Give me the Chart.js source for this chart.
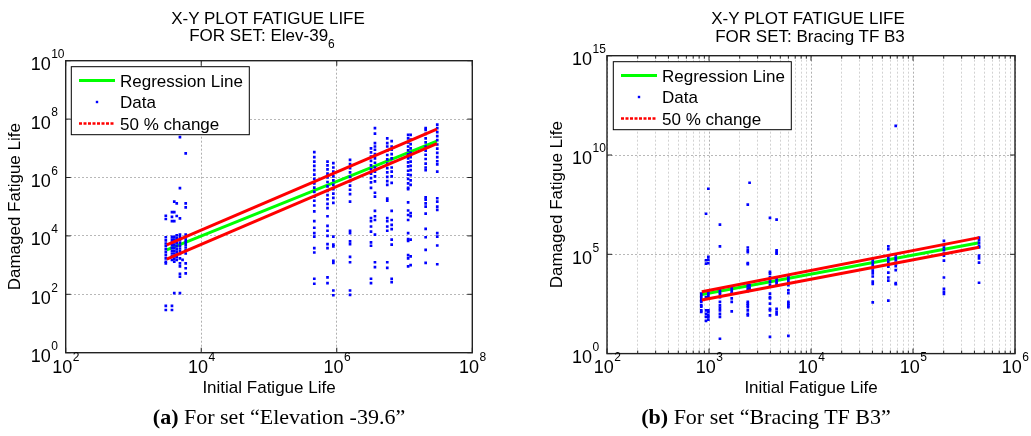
<!DOCTYPE html>
<html>
<head>
<meta charset="utf-8">
<script src="https://cdn.jsdelivr.net/npm/chart.js@4"></script>
<style>
  body { margin:0; width:1031px; height:436px; background:#fff; position:relative; overflow:hidden;
         font-family:"Liberation Sans", Arial, sans-serif; }
  canvas { position:absolute; top:0; }
  #elev { left:0; }
  #brac { left:515px; }
  .t { position:absolute; font-size:17px; line-height:17px; white-space:nowrap; transform:translateX(-50%); color:#000; }
  .t .sub { font-size:12px; position:relative; top:7px; }
  .cap { position:absolute; top:406px; font-family:"Liberation Serif", "DejaVu Serif", serif; font-size:22px;
         line-height:22px; white-space:nowrap; transform:translateX(-50%); color:#000; }
</style>
</head>
<body>
<canvas id="elev" width="515" height="436"></canvas>
<canvas id="brac" width="516" height="436"></canvas>

<div class="t" style="left:268px;top:10px">X-Y PLOT FATIGUE LIFE</div>
<div class="t" style="left:262px;top:26.7px">FOR SET: Elev-39<span class="sub">6</span></div>
<div class="t" style="left:808px;top:10px">X-Y PLOT FATIGUE LIFE</div>
<div class="t" style="left:810px;top:28px">FOR SET: Bracing TF B3</div>

<div class="cap" style="left:279px"><b>(a)</b> For set “Elevation -39.6”</div>
<div class="cap" style="left:766px"><b>(b)</b> For set “Bracing TF B3”</div>

<script>
// legend entries, same for both plots
const legendLabels = ['Regression Line', 'Data', '50 % change'];

// ---- (a) Elevation -39.6 ----
const elevXTicks = [1e2, 1e4, 1e6, 1e8];
const elevYTicks = [1e0, 1e2, 1e4, 1e6, 1e8, 1e10];

// initial fatigue life of each column of points
const elevX = [3.0e3, 3.7e3, 4.0e3, 4.35e3, 4.85e3, 5.3e3, 5.9e3,
               4.66e5, 7.3e5, 8.9e5, 1.57e6, 3.2e6, 3.66e6, 5.56e6, 6.46e6, 1.13e7, 1.23e7, 2.05e7, 3.04e7];
// damaged fatigue life, one list per column
const elevY = [
  [4.9e4, 3.8e4, 9e3, 7e3, 5.5e3, 4.5e3, 3.5e3, 2.8e3, 2.2e3, 1.7e3, 1.3e3, 1.15e3, 40, 29],
  [6.5e4, 4.5e4, 3.2e4, 9.3e3, 7.5e3, 6e3, 4.8e3, 3.9e3, 3.1e3, 2.5e3, 2e3, 1.5e3, 40, 29],
  [1.5e5, 6.5e4, 3.2e4, 9.3e3, 7.5e3, 6e3, 4.8e3, 3.9e3, 3.1e3, 2.5e3, 2e3, 1.6e3, 1.3e3, 110],
  [1.3e5, 4.8e4, 1.05e4, 8.5e3, 7e3, 5.6e3, 4.5e3, 3.6e3, 2.9e3, 2.3e3, 1.9e3, 1.5e3],
  [2.4e7, 4.3e5, 4e4, 1.1e4, 9e3, 7.2e3, 5.8e3, 4.6e3, 3.7e3, 3e3, 2.4e3, 1.7e3, 1.15e3, 900, 500, 400, 110],
  [1.5e3],
  [6.7e6, 1.3e5, 9.5e4, 1.1e4, 9e3, 7.5e3, 6e3, 5e3, 4e3, 3.2e3, 2.5e3, 1.15e3, 780, 520],
  [7.4e6, 5e6, 3.5e6, 2.5e6, 1.8e6, 1.25e6, 9e5, 6.3e5, 4.5e5, 3.2e5, 2.2e5, 1.6e5, 1.1e5, 6.9e4, 3.2e4, 1.9e4, 1.25e4, 9.5e3, 3.8e3, 2.7e3, 340, 230],
  [3.5e6, 2.6e6, 1.9e6, 1.35e6, 1e6, 7e5, 5e5, 3.5e5, 2.5e5, 1.8e5, 1.25e5, 9e4, 4.7e4, 2.2e4, 1.5e4, 1e4, 5.2e3, 3.8e3, 380, 240],
  [3.1e6, 2.2e6, 1.6e6, 1.1e6, 8e5, 5.6e5, 4e5, 2.8e5, 2e5, 1.35e5, 9.5e3, 5e3, 4.4e3, 1.4e3, 1.2e3, 135, 93],
  [4e6, 2.9e6, 2.1e6, 1.5e6, 1.05e6, 7.5e5, 5.3e5, 3.8e5, 2.7e5, 1.5e5, 1.5e4, 1.25e4, 6.5e3, 5.2e3, 1.9e3, 1.25e3, 135, 95],
  [1e7, 7.2e6, 5.2e6, 3.7e6, 2.6e6, 1.9e6, 1.35e6, 9.5e5, 6.8e5, 4.4e5, 4.1e4, 3.2e4, 2.1e4, 1.4e4, 6e3, 4.6e3, 340, 240],
  [4.9e7, 3.2e7, 1.5e7, 1.15e7, 8.9e6, 6.3e6, 4.5e6, 3.2e6, 2.2e6, 1.6e6, 1.1e6, 7.4e5, 3e5, 2.2e5, 7.2e4, 4.7e4, 3.5e4, 1.1e4, 1.25e3, 850],
  [2.2e7, 1.5e7, 1.15e7, 8.3e6, 5.9e6, 4.2e6, 3e6, 2.1e6, 1.5e6, 1.05e6, 7.5e5, 5.6e5, 1.9e5, 1.6e5, 4.1e4, 3.2e4, 2.1e4, 1.5e4, 1.25e3, 800],
  [1.75e7, 1.15e7, 8.9e6, 6.3e6, 4.5e6, 3.2e6, 2.2e6, 1.6e6, 1.1e6, 6.5e5, 7.2e4, 3.5e4, 2.4e4, 1.7e4, 7.4e3, 5e3, 340, 260],
  [2.9e7, 2.2e7, 1.6e7, 1.15e7, 8.5e6, 6.2e6, 4.5e6, 3.3e6, 2.4e6, 1.7e6, 1.25e6, 9e5, 6.3e5, 4.4e5, 4e5, 1.4e5, 7.4e4, 5.2e4, 3.5e4, 1.25e4, 7.8e3, 6.8e3, 2.2e3, 1.7e3, 900],
  [2.9e7, 2e7, 1.4e7, 1e7, 7e6, 5e6, 3.5e6, 2.5e6, 1.8e6, 1.2e6, 8e5, 5.6e5, 6e4, 4.7e4, 7.4e3, 2e3, 1e3],
  [4.9e7, 4.3e7, 3.1e7, 2.2e7, 1.6e7, 1.15e7, 8.3e6, 6e6, 4.3e6, 3e6, 2.2e6, 1.8e6, 2.1e5, 1.75e5, 1.3e5, 1e5, 5.8e4, 1.75e4, 9e3, 3.3e3, 1.2e3],
  [6.5e7, 4.9e7, 3.6e7, 2.6e7, 1.9e7, 1.35e7, 9.8e6, 7e6, 5e6, 3.6e6, 2.8e6, 1.6e6, 1.95e5, 1.5e5, 1e5, 7.8e4, 1.25e4, 9.5e3, 4.7e3, 1.07e3]
];
const elevFitX   = [3.1e3, 3.0e7];
const elevFitY   = [3.3e3, 1.75e7];
const elevUpperY = [4.9e3, 4.5e7];
const elevLowerY = [1.6e3, 1.45e7];

// ---- (b) Bracing TF B3 ----
const bracXTicks = [1e2, 1e3, 1e4, 1e5, 1e6];
const bracYTicks = [1e0, 1e5, 1e10, 1e15];

const bracX = [840, 935, 985, 1280, 1670, 2400, 2500, 3960, 4600, 6000, 4.03e4, 5.73e4, 6.77e4, 2.01e5, 4.44e5];
const bracY = [
  [1050, 800, 630, 480, 400, 270, 230, 150, 125],
  [1.1e7, 5e4, 3.4e4, 700, 150, 100, 70, 44],
  [2e8, 7.4e4, 5.4e4, 3.6e4, 1250, 1000, 800, 600, 150, 125, 90, 70, 51],
  [3.1e6, 2.5e5, 1550, 1200, 950, 700, 400, 270, 200, 150, 100, 70, 5.6],
  [2300, 1800, 1350, 1050, 600, 400, 135],
  [3.2e7, 2.2e5, 1.6e5, 1.3e5, 3.6e4, 3.2e4, 3100, 2400, 1800, 1400, 400, 330, 270, 220, 150, 100, 85],
  [4e8, 2700, 2000, 1550],
  [6.8e6, 1.3e4, 1.07e4, 7200, 5400, 4000, 2800, 1050, 700, 600, 330, 180, 150, 85, 6.9],
  [5.6e6, 1.6e5, 1.3e5, 1.07e5, 5900, 4300, 3500, 2800, 180, 125, 95],
  [7800, 5900, 4500, 3500, 2800, 1550, 1100, 400, 330, 270, 220, 7.8],
  [5.1e4, 3.8e4, 2.8e4, 2e4, 1.5e4, 1.1e4, 7600, 4200, 3200, 380],
  [2.5e5, 1.8e5, 7.6e4, 5.5e4, 4e4, 3e4, 2.4e4, 1.2e4, 6800, 4700, 470],
  [2.9e11, 9.3e4, 6.8e4, 4.9e4, 3.5e4, 2.5e4, 1.6e4, 3500, 3100],
  [4.7e5, 3e5, 2.2e5, 1.6e5, 1.1e5, 8.5e4, 4.8e4, 6800, 1800, 1300, 1000],
  [6.9e5, 5e5, 3.6e5, 2.6e5, 2.2e5, 8.5e4, 6.3e4, 3.8e4, 3700]
];
const bracFitX   = [850, 4.45e5];
const bracFitY   = [950, 3.85e5];
const bracUpperY = [1300, 6.9e5];
const bracLowerY = [500, 2.25e5];

// 2..9 within each decade, for the minor grid
function minorsOf(majors) {
  const out = [];
  for (let i = 0; i < majors.length - 1; i++)
    for (let m = 2; m <= 9; m++) out.push(majors[i] * m);
  return out;
}
const toPoints = (xs, ys) => xs.flatMap((x, i) => ys[i].map(y => ({ x, y })));
const toLine = (xs, ys) => xs.map((x, i) => ({ x, y: ys[i] }));

const FONT = '"Liberation Sans", Arial, sans-serif';

// "10" with a raised exponent
function pow10(ctx, x, cy, v, align) {
  const exp = String(Math.round(Math.log10(v)));
  ctx.font = '18px ' + FONT;
  const bw = ctx.measureText('10').width;
  ctx.font = '12px ' + FONT;
  const ew = ctx.measureText(exp).width;
  const bx = align === 'right' ? x - bw : x - (bw + ew) / 2;
  ctx.textAlign = 'left';
  ctx.textBaseline = 'alphabetic';
  ctx.font = '18px ' + FONT;
  ctx.fillText('10', bx, cy + 6.4);
  ctx.font = '12px ' + FONT;
  ctx.fillText(exp, bx + bw + 0.5, cy - 5.7);
}

// box, inward ticks, tick labels and legend in the old MATLAB look
const matlabAxes = {
  id: 'matlabAxes',
  afterDatasetsDraw(chart, args, o) {
    const { ctx, chartArea: a } = chart;
    const sx = chart.scales.x, sy = chart.scales.y;
    ctx.save();
    ctx.strokeStyle = '#222';
    ctx.lineWidth = 1;
    const tickX = (vals, len) => vals.forEach(v => {
      const p = sx.getPixelForValue(v);
      ctx.beginPath();
      ctx.moveTo(p, a.bottom); ctx.lineTo(p, a.bottom - len);
      ctx.moveTo(p, a.top); ctx.lineTo(p, a.top + len);
      ctx.stroke();
    });
    const tickY = (vals, len) => vals.forEach(v => {
      const p = sy.getPixelForValue(v);
      ctx.beginPath();
      ctx.moveTo(a.left, p); ctx.lineTo(a.left + len, p);
      ctx.moveTo(a.right, p); ctx.lineTo(a.right - len, p);
      ctx.stroke();
    });
    tickX(o.xTicks, 5);
    tickX(o.xMinor, 3);
    tickY(o.yTicks, 5);
    ctx.lineWidth = 1.4;
    ctx.strokeRect(a.left, a.top, a.right - a.left, a.bottom - a.top);

    ctx.fillStyle = '#000';
    o.yTicks.forEach(v => pow10(ctx, a.left - 15, sy.getPixelForValue(v) + 3, v, 'right'));
    o.xTicks.forEach(v => pow10(ctx, sx.getPixelForValue(v), o.xLabelY, v, 'center'));

    // legend
    const bx = a.left + o.legend.dx, by = a.top + o.legend.dy;
    const w = 178, h = 68;
    ctx.fillStyle = '#fff';
    ctx.fillRect(bx, by, w, h);
    ctx.strokeStyle = '#000';
    ctx.lineWidth = 1;
    ctx.strokeRect(bx, by, w, h);
    legendLabels.forEach((t, i) => {
      const cy = by + 13.8 + i * 21.5;
      const x0 = bx + 7.7, x1 = bx + 43.7;
      if (i === 1) {
        ctx.fillStyle = '#0000ff';
        ctx.fillRect((x0 + x1) / 2 - 1.2, cy - 1.2, 2.4, 2.4);
      } else {
        ctx.beginPath();
        ctx.strokeStyle = i === 0 ? '#00ff00' : '#ff0000';
        ctx.lineWidth = i === 0 ? 3 : 2.5;
        ctx.setLineDash(i === 0 ? [] : [3, 1.5]);
        ctx.moveTo(x0, cy); ctx.lineTo(x1, cy);
        ctx.stroke();
        ctx.setLineDash([]);
      }
      ctx.fillStyle = '#000';
      ctx.font = '17px ' + FONT;
      ctx.textAlign = 'left';
      ctx.textBaseline = 'alphabetic';
      ctx.fillText(t, bx + 48.7, cy + 6.1);
    });
    ctx.restore();
  }
};

function makeChart(id, o) {
  const axisTitle = (text, pad) => ({ display: true, text, color: '#000', font: { family: FONT, size: 17 }, padding: pad });
  return new Chart(document.getElementById(id), {
    type: 'scatter',
    data: {
      datasets: [
        { label: legendLabels[0], data: toLine(o.fitX, o.fitY), showLine: true, borderColor: '#00ff00',
          borderWidth: 3, pointRadius: 0, order: 3 },
        { label: legendLabels[1], data: toPoints(o.dataX, o.dataY), backgroundColor: '#0000ff',
          borderWidth: 0, pointStyle: 'rect', pointRadius: 1.9, order: 2 },
        { label: legendLabels[2], data: toLine(o.fitX, o.upperY), showLine: true, borderColor: '#ff0000',
          borderWidth: 3, pointRadius: 0, order: 1 },
        { label: legendLabels[2], data: toLine(o.fitX, o.lowerY), showLine: true, borderColor: '#ff0000',
          borderWidth: 3, pointRadius: 0, order: 1 }
      ]
    },
    options: {
      responsive: false,
      animation: false,
      events: [],
      devicePixelRatio: 1,
      layout: { padding: o.padding },
      plugins: {
        legend: { display: false },
        tooltip: { enabled: false },
        matlabAxes: { xTicks: o.xTicks, xMinor: o.xMinor, yTicks: o.yTicks, xLabelY: 367, legend: o.legend }
      },
      scales: {
        x: {
          type: 'logarithmic',
          min: o.xTicks[0], max: o.xTicks[o.xTicks.length - 1],
          afterBuildTicks: s => { s.ticks = o.xTicks.concat(o.xMinor).map(value => ({ value })); },
          afterFit: s => { s.height = 50; },
          ticks: { display: false },
          grid: { drawTicks: false, lineWidth: 1,
                  color: c => o.xTicks.includes(c.tick && c.tick.value) ? '#b0b0b0' : '#d2d2d2' },
          border: { display: false, dash: [2, 2] },
          title: axisTitle('Initial Fatigue Life', { bottom: o.xTitlePad })
        },
        y: {
          type: 'logarithmic',
          min: o.yTicks[0], max: o.yTicks[o.yTicks.length - 1],
          afterBuildTicks: s => { s.ticks = o.yTicks.map(value => ({ value })); },
          afterFit: s => { s.width = o.yWidth; },
          ticks: { display: false },
          grid: { drawTicks: false, lineWidth: 1, color: '#b8b8b8' },
          border: { display: false, dash: [2, 2] },
          title: axisTitle('Damaged Fatigue Life', { top: o.yTitlePad })
        }
      }
    },
    plugins: [matlabAxes]
  });
}

makeChart('elev', {
  dataX: elevX, dataY: elevY,
  fitX: elevFitX, fitY: elevFitY, upperY: elevUpperY, lowerY: elevLowerY,
  xTicks: elevXTicks, xMinor: [], yTicks: elevYTicks,
  padding: { left: 0, top: 60.7, right: 42.7, bottom: 33.3 },
  yWidth: 65.7, yTitlePad: 4.8, xTitlePad: 4.5,
  legend: { dx: 5.6, dy: 6 }
});

makeChart('brac', {
  dataX: bracX, dataY: bracY,
  fitX: bracFitX, fitY: bracFitY, upperY: bracUpperY, lowerY: bracLowerY,
  xTicks: bracXTicks, xMinor: minorsOf(bracXTicks), yTicks: bracYTicks,
  padding: { left: 0, top: 55.7, right: 16, bottom: 32.4 },
  yWidth: 92, yTitlePad: 31.8, xTitlePad: 5.4,
  legend: { dx: 6.3, dy: 6 }
});
</script>
</body>
</html>
